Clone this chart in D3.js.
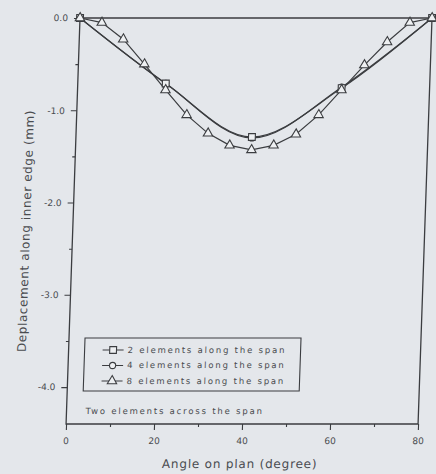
<!DOCTYPE html>
<html><head><meta charset="utf-8">
<script src="https://cdn.jsdelivr.net/npm/d3@7"></script>
<style>body{margin:0;background:#e4e7eb}svg{display:block}</style>
</head><body>
<svg id="c" width="436" height="474"></svg>
<script>
// Data
const angles2 = [0, 20, 40, 60, 80];
const disp2   = [0, -0.71, -1.29, -0.76, 0];
const angles4 = [0, 20, 40, 60, 80];
const disp4   = [0, -0.71, -1.30, -0.75, 0];
const angles8 = [0, 5, 10, 15, 20, 25, 30, 35, 40, 45, 50, 55, 60, 65, 70, 75, 80];
const disp8   = [0, -0.05, -0.23, -0.50, -0.78, -1.05, -1.25, -1.38, -1.43, -1.38, -1.26, -1.05, -0.78, -0.51, -0.26, -0.05, 0];
const xTicks = [0, 20, 40, 60, 80];
const xMinor = [10, 30, 50, 70];
const yTicks = [0, -1, -2, -3, -4];
const yTickLabels = ["0.0", "-1.0", "-2.0", "-3.0", "-4.0"];
const yMinor = [-0.5, -1.5, -2.5, -3.5];
const legendLabels = ["2 elements along the span", "4 elements along the span", "8 elements along the span"];
const noteText = "Two elements across the span";
const xTitle = "Angle on plan (degree)";
const yTitle = "Deplacement along inner edge (mm)";

const ink = "#3b3d40", txt = "#4a4c50";
const svg = d3.select("#c");
const skewK = -0.0343, topY = 18;
const g = svg.append("g")
  .attr("transform", `translate(${-skewK * topY},0) skewX(${Math.atan(skewK) * 180 / Math.PI})`);

const x = d3.scaleLinear().domain([0, 80]).range([80, 432]);
const y = d3.scaleLinear().domain([-4.4, 0]).range([424, 18]);

const font = "'DejaVu Sans', sans-serif";

// axes
const yAx = g.append("g").attr("transform", `translate(${x(0)},0)`)
  .call(d3.axisLeft(y).tickValues(yTicks).tickFormat((d, i) => yTickLabels[i]).tickSize(6).tickPadding(6));
const yAxM = g.append("g").attr("transform", `translate(${x(0)},0)`)
  .call(d3.axisLeft(y).tickValues(yMinor).tickFormat("").tickSize(3));
const xAx = g.append("g").attr("transform", `translate(0,${y(-4.4)})`)
  .call(d3.axisBottom(x).tickValues(xTicks).tickFormat(d3.format("d")).tickSize(6).tickPadding(8));
const xAxM = g.append("g").attr("transform", `translate(0,${y(-4.4)})`)
  .call(d3.axisBottom(x).tickValues(xMinor).tickFormat("").tickSize(3));
[yAx, yAxM, xAx, xAxM].forEach(a => {
  a.select(".domain").remove();
  a.selectAll("line").attr("stroke", ink).attr("stroke-width", 1.1);
  a.selectAll("text").attr("fill", txt).style("font-family", font).style("font-size", "9px");
});

// frame
g.append("rect").attr("x", x(0)).attr("y", y(0))
  .attr("width", x(80) - x(0)).attr("height", y(-4.4) - y(0))
  .attr("fill", "none").attr("stroke", ink).attr("stroke-width", 1.3);

// series
const curveLine = d3.line().x(d => x(d[0])).y(d => y(d[1])).curve(d3.curveMonotoneX);
const linLine = d3.line().x(d => x(d[0])).y(d => y(d[1]));
const s2 = angles2.map((a, i) => [a, disp2[i]]);
const s4 = angles4.map((a, i) => [a, disp4[i]]);
const s8 = angles8.map((a, i) => [a, disp8[i]]);

g.append("path").attr("d", curveLine(s4)).attr("fill", "none").attr("stroke", ink).attr("stroke-width", 1.2);
g.append("path").attr("d", curveLine(s2)).attr("fill", "none").attr("stroke", ink).attr("stroke-width", 1.2);
g.append("path").attr("d", linLine(s8)).attr("fill", "none").attr("stroke", ink).attr("stroke-width", 1.2);

const circ = d3.symbol().type(d3.symbolCircle).size(30);
const sq = d3.symbol().type(d3.symbolSquare).size(46);
const tri = d3.symbol().type(d3.symbolTriangle).size(38);

function markers(data, sym) {
  g.append("g").selectAll("path").data(data).join("path")
    .attr("d", sym).attr("transform", d => `translate(${x(d[0])},${y(d[1])})`)
    .attr("fill", "#eef0f2").attr("stroke", ink).attr("stroke-width", 1.1);
}
markers(s4, circ);
markers(s2, sq);
markers(s8, tri);

// legend
const lg = g.append("g");
lg.append("rect").attr("x", 96).attr("y", 338).attr("width", 216).attr("height", 53)
  .attr("fill", "none").attr("stroke", ink).attr("stroke-width", 1.1);
const syms = [sq, circ, tri];
legendLabels.forEach((lab, i) => {
  const yy = 350 + i * 15.5;
  lg.append("line").attr("x1", 114).attr("x2", 135).attr("y1", yy).attr("y2", yy)
    .attr("stroke", ink).attr("stroke-width", 1.2);
  lg.append("path").attr("d", syms[i]).attr("transform", `translate(124.5,${yy})`)
    .attr("fill", "#eef0f2").attr("stroke", ink).attr("stroke-width", 1.1);
  lg.append("text").attr("x", 139).attr("y", yy).attr("dy", "0.35em")
    .attr("fill", txt).style("font-family", font).style("font-size", "8.5px")
    .style("letter-spacing", "1.8px").text(lab);
});
g.append("text").attr("x", 99).attr("y", 411).attr("dy", "0.35em")
  .attr("fill", txt).style("font-family", font).style("font-size", "8.5px")
  .style("letter-spacing", "1.8px").text(noteText);

// titles
g.append("text").attr("x", 255).attr("y", 464).attr("dy", "0.35em").attr("text-anchor", "middle")
  .attr("fill", txt).style("font-family", font).style("font-size", "12px")
  .style("letter-spacing", "0.8px").text(xTitle);
g.append("text").attr("transform", `translate(33,231) rotate(-90)`).attr("dy", "0.35em")
  .attr("text-anchor", "middle")
  .attr("fill", txt).style("font-family", font).style("font-size", "12px")
  .style("letter-spacing", "0.6px").text(yTitle);
</script>
</body></html>
